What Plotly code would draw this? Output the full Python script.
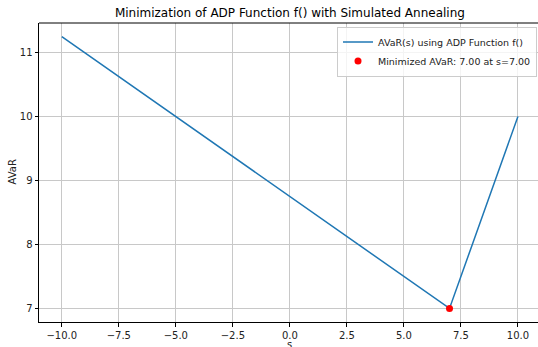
import plotly.graph_objects as go

s_values = [-10.0, -5.0, 0.0, 5.0, 7.0, 8.0, 9.0, 10.0]
avar_values = [11.25, 10.0, 8.75, 7.5, 7.0, 8.0, 9.0, 10.0]
min_s = [7.0]
min_avar = [7.0]
x_ticks = [-10.0, -7.5, -5.0, -2.5, 0.0, 2.5, 5.0, 7.5, 10.0]
y_ticks = [7, 8, 9, 10, 11]

W, H = 538, 347
L, R, T, B = 39, 0, 23, 25
font = "DejaVu Sans"

fig = go.Figure()
fig.add_trace(go.Scatter(x=s_values, y=avar_values, mode="lines",
                         line=dict(color="#1f77b4", width=1.5),
                         name="AVaR(s) using ADP Function f()"))
fig.add_trace(go.Scatter(x=min_s, y=min_avar, mode="markers",
                         marker=dict(color="red", size=7),
                         name="Minimized AVaR: 7.00 at s=7.00"))

axis_common = dict(showgrid=True, gridcolor="#c8c8c8", gridwidth=0.8,
                   showline=True, linecolor="black", linewidth=1,
                   ticks="outside", ticklen=3.5, tickwidth=0.8, tickcolor="black",
                   zeroline=False, tickfont=dict(family=font, size=10, color="#222222"))

fig.update_xaxes(range=[-11, 10.88], tickvals=x_ticks,
                 ticktext=[f"{v:.1f}".replace("-", "\u2212") for v in x_ticks],
                 mirror=False, **axis_common)
fig.update_yaxes(range=[6.7875, 11.4625], tickvals=y_ticks,
                 ticktext=[str(v) for v in y_ticks], **axis_common)

fig.update_layout(
    width=W, height=H,
    margin=dict(l=L, r=R, t=T, b=B, pad=0),
    plot_bgcolor="white", paper_bgcolor="white",
    font=dict(family=font, size=10, color="black"),
    title=dict(text="Minimization of ADP Function f() with Simulated Annealing",
               x=(L + 540.8) / 2 / W, xanchor="center",
               y=1 - 13 / H, yanchor="middle", yref="container",
               font=dict(family=font, size=12, color="black")),
    legend=dict(x=0.998, xanchor="right", y=0.988, yanchor="top",
                bgcolor="rgba(255,255,255,0.8)", bordercolor="#cccccc", borderwidth=1,
                font=dict(family=font, size=9.5, color="#222222"),
                tracegroupgap=0, itemwidth=30),
    showlegend=True,
)

# top spine
fig.add_shape(type="line", xref="paper", yref="paper", x0=0, x1=1, y0=1, y1=1,
              line=dict(color="black", width=1))

fig.add_annotation(text="s", xref="paper", yref="paper",
                   x=(540.8 - L) / 2 / (W - L - R), y=-(337 - (H - B)) / (H - T - B),
                   xanchor="center", yanchor="top", showarrow=False,
                   font=dict(family=font, size=10, color="#222222"))
fig.add_annotation(text="AVaR", xref="paper", yref="paper",
                   x=-(L - 12) / (W - L - R), y=0.5, textangle=-90,
                   xanchor="center", yanchor="middle", showarrow=False,
                   font=dict(family=font, size=10, color="#222222"))

fig.write_html("out.html")
